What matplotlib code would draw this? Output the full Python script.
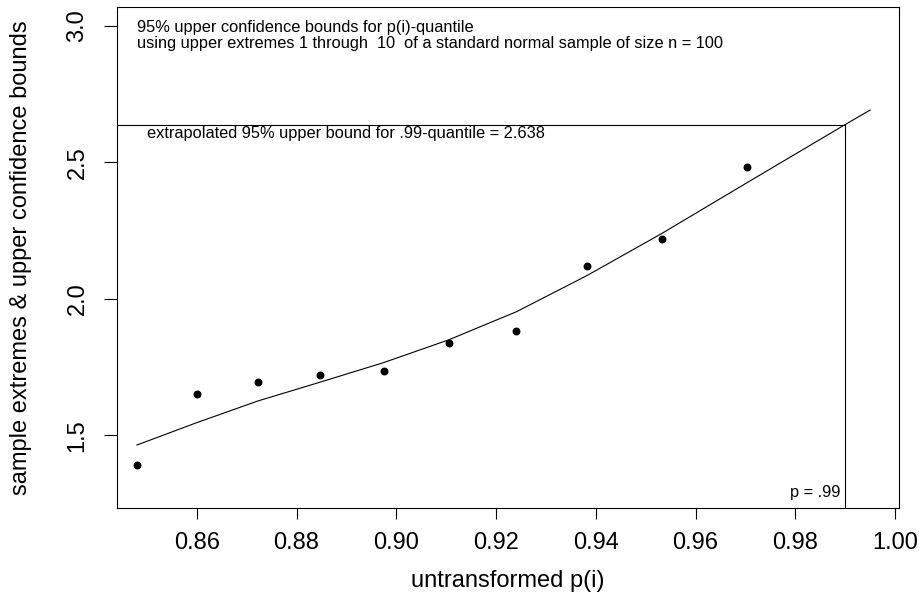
import numpy as np
import matplotlib
matplotlib.use("Agg")
import matplotlib.pyplot as plt

plt.rcParams['font.family'] = ['Liberation Sans', 'DejaVu Sans']

# plotting positions p(i) and the sample upper extremes
p_i = [0.8480, 0.8600, 0.8722, 0.8847, 0.8975, 0.9105, 0.9241, 0.9382, 0.9533, 0.9703]
extremes = [1.391, 1.651, 1.695, 1.720, 1.735, 1.838, 1.883, 2.120, 2.218, 2.482]

# fitted upper confidence bound curve (with extrapolation out to .995)
bound_p = [0.8480, 0.8600, 0.8722, 0.8847, 0.8975, 0.9105, 0.9241, 0.9382, 0.9533, 0.9703, 0.990, 0.995]
bound_y = [1.465, 1.547, 1.626, 1.695, 1.767, 1.850, 1.953, 2.085, 2.240, 2.425, 2.638, 2.691]

p_target = 0.99
q_bound = 2.638

xticks = [0.86, 0.88, 0.90, 0.92, 0.94, 0.96, 0.98, 1.00]
yticks = [1.5, 2.0, 2.5, 3.0]

fig = plt.figure(figsize=(9.2, 5.95), dpi=100)
ax = fig.add_axes([117/920, 1 - 508/595, 782/920, 501/595])

ax.plot(p_i, extremes, 'o', color='black', markersize=5.7, markeredgewidth=0)
ax.plot(bound_p, bound_y, color='black', lw=0.8)
ax.plot([0.80, p_target], [q_bound, q_bound], color='black', lw=0.8)
ax.plot([p_target, p_target], [0.0, q_bound], color='black', lw=0.8)

ax.set_xlim(0.84401, 1.0008)
ax.set_ylim(1.2346, 3.0684)

ax.set_xticks(xticks)
ax.set_xticklabels(["%.2f" % v for v in xticks])
ax.set_yticks(yticks)
ax.set_yticklabels(["%.1f" % v for v in yticks], rotation=90, va='center')

for s in ax.spines.values():
    s.set_linewidth(0.8)
ax.tick_params(axis='x', direction='out', length=7.7, width=0.8, labelsize=17, pad=9.5)
ax.tick_params(axis='y', direction='out', length=9.6, width=0.8, labelsize=17, pad=11)

ax.text(0.026, 0.9501, "95% upper confidence bounds for p(i)-quantile",
        transform=ax.transAxes, fontsize=11.8, va='baseline', ha='left')
ax.text(0.026, 0.9188, "using upper extremes 1 through  10  of a standard normal sample of size n = 100",
        transform=ax.transAxes, fontsize=11.8, va='baseline', ha='left')
ax.text(0.038, 0.7379, "extrapolated 95% upper bound for .99-quantile = {:.3f}".format(q_bound),
        transform=ax.transAxes, fontsize=11.8, va='baseline', ha='left')
ax.text(0.9246, 0.0226, "p = .99", transform=ax.transAxes, fontsize=11.8,
        va='baseline', ha='right')

fig.text(508/920, 1 - 580.8/595, "untransformed p(i)", fontsize=17, ha='center', va='center')
fig.text(21/920, 1 - 257.5/595, "sample extremes & upper confidence bounds", fontsize=17,
         ha='center', va='center', rotation=90)

fig.savefig("out.png", dpi=100)
